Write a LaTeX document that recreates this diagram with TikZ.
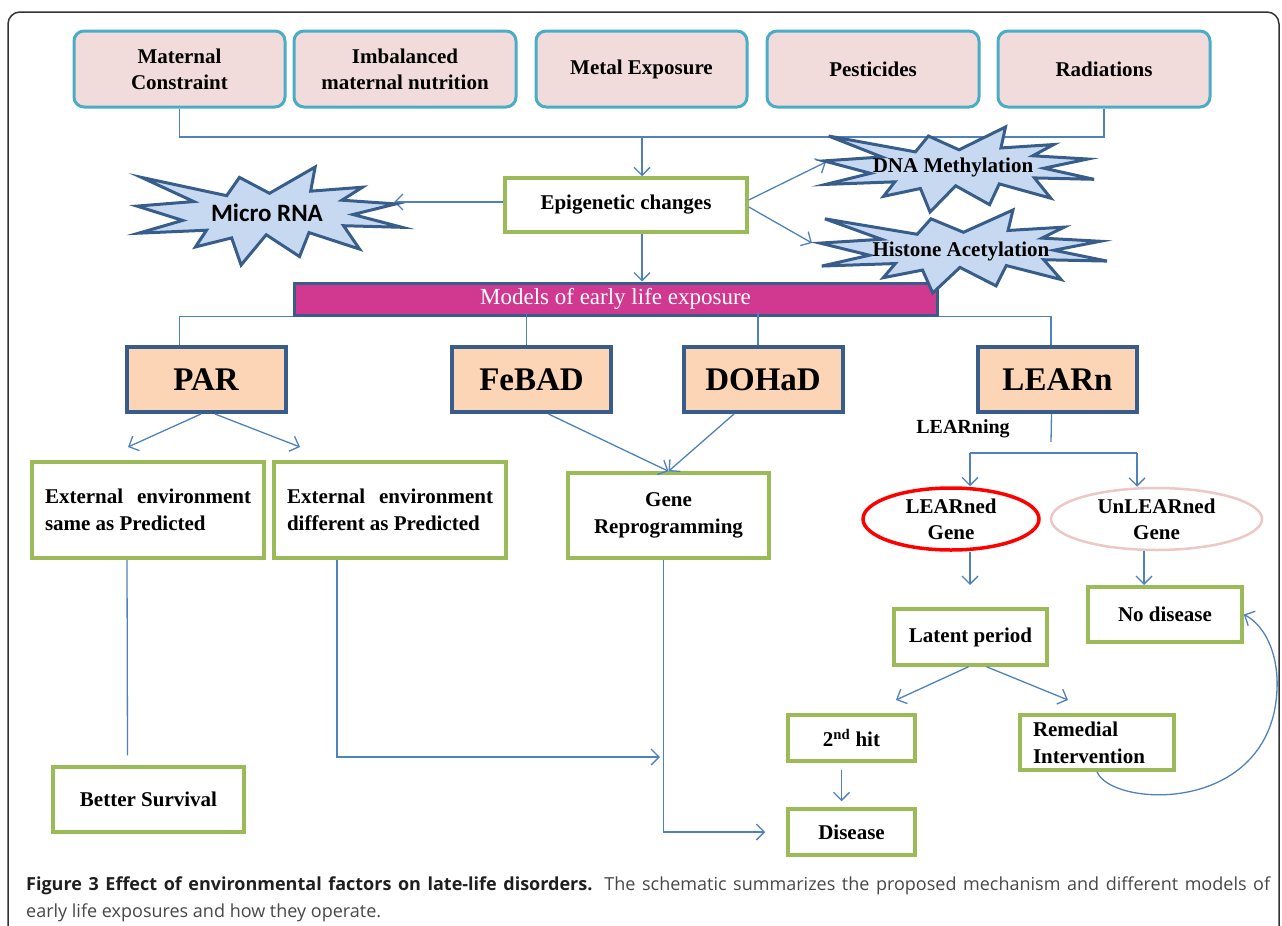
\documentclass[tikz,border=0pt]{standalone}
\usepackage{fontspec}
\setmainfont{Liberation Serif}
\newfontfamily\burstfont{Carlito}
\newfontfamily\captionfont{Open Sans}
\usetikzlibrary{arrows.meta,shapes.geometric,positioning}
\definecolor{srcfill}{HTML}{F2DCDB}
\definecolor{srcdraw}{HTML}{4BACC6}
\definecolor{grn}{HTML}{9BBB59}
\definecolor{peach}{HTML}{FBD5B5}
\definecolor{navy}{HTML}{385D8A}
\definecolor{starfill}{HTML}{C6D9F1}
\definecolor{barfill}{HTML}{D0398F}
\definecolor{lnkblue}{HTML}{4F81BD}
\definecolor{palered}{HTML}{EBC8C6}
\newcommand\srcbox[4]{\node[srcbox, minimum width=#3] (#1) at (#2,69) {#4};}
\newcommand\modbox[3]{\node[modbox] (#1) at (#2,379.5) {#3};}
\newcommand\burst[4]{\filldraw[burst, shift={(#1,#2)}, xscale=#3/100, yscale=#4/100] (50,26.85) -- (67.23,0) -- (65.53,24.65) -- (85.09,20.63) -- (77.32,33.87) -- (97.67,37.67) -- (81.51,48.5) -- (100,61.53) -- (77.95,59.92) -- (84,83.77) -- (64.91,66.93) -- (61.33,91.38) -- (48.76,69.14) -- (39.28,100) -- (35.72,72.35) -- (22.05,81.56) -- (26.24,64.52) -- (0.63,67.53) -- (17.23,54.51) -- (0,39.88) -- (21.42,35.26) -- (1.71,10.63) -- (33.85,29.26) -- (38.67,10.63) -- cycle;}

\begin{document}
\begin{tikzpicture}[x=1pt,y=-1pt,
  srcbox/.style={draw=srcdraw, fill=srcfill, line width=3pt, rounded corners=10pt, minimum height=76pt, align=center, font=\bfseries\fontsize{21}{26}\selectfont},
  grnbox/.style={draw=grn, fill=white, line width=3.5pt, align=center, font=\bfseries\fontsize{21}{27}\selectfont},
  modbox/.style={draw=navy, fill=peach, line width=4pt, minimum width=159pt, minimum height=65pt, font=\bfseries\fontsize{33}{36}\selectfont},
  burst/.style={draw=navy, fill=starfill, line width=3pt, line join=miter},
  bursttext/.style={inner sep=0pt, font=\bfseries\fontsize{21}{24}\selectfont},
  oval/.style={ellipse, line width=3.5pt, fill=white, inner sep=0pt, align=center, font=\bfseries\fontsize{21}{26}\selectfont},
  lnk/.style={draw=lnkblue, line width=1.3pt},
  arr/.style={lnk, -{Straight Barb[length=8pt,width=16pt]}}]
\useasboundingbox (0,0) rectangle (1282,926);
\draw[black!80, line width=1.5pt, rounded corners=12pt] (8,950) -- (8,12) -- (1279,12) -- (1279,950);

\srcbox{mat}{179.5}{211pt}{Maternal\\Constraint}
\srcbox{imb}{405}{222pt}{Imbalanced\\maternal nutrition}
\srcbox{met}{641.5}{211pt}{Metal Exposure}
\srcbox{pes}{873}{212pt}{Pesticides}
\srcbox{rad}{1104}{212pt}{Radiations}

\node[grnbox, minimum width=242pt, minimum height=54pt] (epi) at (626,205) {Epigenetic changes};
\node[draw=navy, fill=barfill, line width=3pt, minimum width=643pt, minimum height=32pt, inner sep=0pt, text=white, font=\fontsize{23}{26}\selectfont] (bar) at (615.5,299) {Models of early life exposure};

\coordinate (join) at (642,137);
\coordinate (mirtip) at (394,202);
\coordinate (dnatip) at (826,162);
\coordinate (histip) at (812,243);

\draw[lnk] (mat.south) |- (join) -| (rad.south);
\draw[arr] (join) -- (epi.north -| join);
\draw[arr] (epi.west |- mirtip) -- (mirtip);
\draw[arr] ([yshift=5pt]epi.east) -- (dnatip);
\draw[arr] ([yshift=-2pt]epi.east) -- (histip);
\draw[arr] (epi.south -| join) -- (bar.north -| join);

\burst{137}{167}{265}{98}
\burst{824}{127}{270}{85}
\burst{820}{210}{287}{83}
\node[bursttext, font=\burstfont\bfseries\fontsize{25}{28}\selectfont] (mirna) at (267,213) {Micro RNA};
\node[bursttext] (dnam) at (953,167) {DNA Methylation};
\node[bursttext] (hist) at (961,251) {Histone Acetylation};

\modbox{par}{206}{PAR}
\modbox{feb}{531.5}{FeBAD}
\modbox{doh}{763}{DOHaD}
\modbox{lea}{1057.5}{LEARn}

\node[grnbox, minimum width=232pt, minimum height=96pt, text width=206pt, align=justify] (same) at (148,510) {External environment same as Predicted};
\node[grnbox, minimum width=232pt, minimum height=96pt, text width=206pt, align=justify] (diff) at (390,510) {External environment different as Predicted};
\node[grnbox, minimum width=201pt, minimum height=85pt] (gene) at (668.5,515.5) {Gene\\Reprogramming};
\node[grnbox, minimum width=191pt, minimum height=65pt] (better) at (148.5,799.5) {Better Survival};

\node[font=\bfseries\fontsize{20}{24}\selectfont] (learning) at (963,429) {LEARning};
\node[oval, draw=red, minimum width=176pt, minimum height=62pt] (learned) at (951,519) {LEARned\\Gene};
\node[oval, draw=palered, line width=2.5pt, minimum width=211pt, minimum height=62pt] (unlearned) at (1156.5,519) {UnLEARned\\Gene};

\node[grnbox, minimum width=153pt, minimum height=56pt] (latent) at (970.5,637) {Latent period};
\node[grnbox, minimum width=154pt, minimum height=55pt] (nodis) at (1165,614.5) {No disease};
\node[grnbox, minimum width=127pt, minimum height=46pt] (hit) at (851.5,738) {2\textsuperscript{nd} hit};
\node[grnbox, minimum width=154pt, minimum height=55pt, align=left, text width=128pt] (remedy) at (1097,742.5) {Remedial\\Intervention};
\node[grnbox, minimum width=127pt, minimum height=46pt] (dis) at (851.5,832) {Disease};

\node[anchor=base west, inner sep=0pt, text width=1244pt, align=justify, text=black!72, font=\captionfont\fontsize{18}{27}\selectfont] (cap) at (26,890) {\textcolor{black!88}{\textbf{Figure 3 Effect of environmental factors on late-life disorders.}} The schematic summarizes the proposed mechanism and different models of\linebreak early life exposures and how they operate.};

\coordinate (samein) at (128,447);
\coordinate (diffin) at (300,447);
\coordinate (leajoin) at (1051,442);
\coordinate (forka) at (970,453);
\coordinate (forkb) at (1137,453);
\coordinate (latentin) at (970,585);
\coordinate (nodisin) at (1144,585);
\coordinate (hitin) at (896,700);
\coordinate (remin) at (1068,700);
\coordinate (meet) at (660,757);

\draw[lnk] (bar.south west) -| (par.north -| mat.south);
\draw[lnk] (feb.north) ++(-5,0) -- ++(0,-32);
\draw[lnk] (doh.north) ++(-5,0) -- ++(0,-32);
\draw[lnk] (bar.south east) -| (lea.north -| leajoin);

\draw[arr] ([xshift=-5pt]par.south) -- (samein);
\draw[arr] ([xshift=9pt]par.south) -- (diffin);
\draw[arr] ([xshift=17pt]feb.south) -- (gene.north);
\draw[arr] ([xshift=-29pt]doh.south) -- (gene.north);

\draw[lnk] ([xshift=-6pt]lea.south) -- (leajoin);
\draw[lnk] (forka) -- (forkb);
\draw[arr] (forka) -- (forka |- learned.north);
\draw[arr] (forkb) -- (forkb |- unlearned.north);
\draw[arr] (learned.south -| forka) -- (latentin);
\draw[arr] (unlearned.south -| nodisin) -- (nodisin);

\draw[arr] ([xshift=-2pt]latent.south) -- (hitin);
\draw[arr] ([xshift=16pt]latent.south) -- (remin);
\draw[arr] ([xshift=-10pt,yshift=-7pt]hit.south) -- ([xshift=-10pt,yshift=6pt]dis.north);
\draw[arr] (remedy.south) .. controls (1110,805) and (1250,815) .. (1274,713) .. controls (1285,660) and (1265,625) .. (nodis.east);

\draw[lnk] ([xshift=-21pt]same.south) -- ([xshift=-21pt,yshift=10pt]better.north);
\draw[arr] ([xshift=-53pt]diff.south) |- (meet);
\draw[arr] ([xshift=-5pt]gene.south) |- ([xshift=-21pt]dis.west);
\end{tikzpicture}
\end{document}
